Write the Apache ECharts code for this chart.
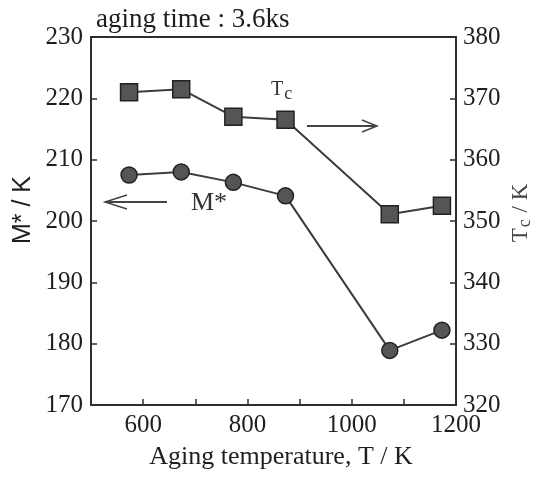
<!DOCTYPE html>
<html lang="en">
<head>
  <meta charset="UTF-8">
  <title>M* and Tc vs aging temperature</title>
  <script src="https://cdn.jsdelivr.net/npm/echarts@6/dist/echarts.min.js"></script>
  <style type="text/css">
    html, body { margin: 0; padding: 0; background: #fff; }
    #main { width: 535px; height: 491px; }
  </style>
</head>
<body>
  <div id="main"></div>

  <script type="text/javascript">
    // aging temperatures (K)
    var agingTemps = [573, 673, 773, 873, 1073, 1173];
    // M* (left axis, K)
    var mStar = [207.5, 208.0, 206.3, 204.1, 178.9, 182.2];
    // Tc (right axis, K)
    var tc = [371.0, 371.5, 367.0, 366.5, 351.1, 352.5];

    var xLabelValues = [600, 800, 1000, 1200];

    function pairs(xs, ys) {
      var out = [];
      for (var i = 0; i < xs.length; i++) {
        out.push([xs[i], ys[i]]);
      }
      return out;
    }

    var serif = '"Liberation Serif", "DejaVu Serif", serif';
    var sans = '"Liberation Sans", Arial, sans-serif';
    var ink = '#1e1e1e';
    var frame = '#2e2e2e';

    var myChart = echarts.init(document.getElementById('main'));

    var axisLineStyle = { color: frame, width: 2 };
    var tickLabel = { color: ink, fontFamily: serif, fontSize: 25 };

    var option = {
      animation: false,
      backgroundColor: '#fff',
      grid: {
        left: 91, right: 79, top: 37, bottom: 86,
        containLabel: false,
        outerBoundsMode: 'none',
        show: true, borderColor: frame, borderWidth: 2
      },
      xAxis: {
        type: 'value',
        min: 500, max: 1200, interval: 100,
        splitLine: { show: false },
        axisLine: { lineStyle: axisLineStyle },
        axisTick: { inside: true, length: 6, lineStyle: { color: frame, width: 1.5 } },
        axisLabel: Object.assign({
          margin: 8,
          formatter: function (v) { return xLabelValues.indexOf(v) >= 0 ? String(v) : ''; }
        }, tickLabel),
        name: 'Aging temperature, T / K',
        nameLocation: 'middle',
        nameGap: 39,
        nameTextStyle: { color: ink, fontFamily: serif, fontSize: 26, padding: [0, 0, 0, 15] }
      },
      yAxis: [
        {
          type: 'value',
          min: 170, max: 230, interval: 10,
          splitLine: { show: false },
          axisLine: { lineStyle: axisLineStyle },
          axisTick: { inside: true, length: 6, lineStyle: { color: frame, width: 1.5 } },
          axisLabel: Object.assign({ margin: 8 }, tickLabel)
        },
        {
          type: 'value',
          position: 'right',
          min: 320, max: 380, interval: 10,
          splitLine: { show: false },
          axisLine: { lineStyle: axisLineStyle },
          axisTick: { inside: true, length: 6, lineStyle: { color: frame, width: 1.5 } },
          axisLabel: Object.assign({ margin: 7 }, tickLabel)
        }
      ],
      series: [
        {
          name: 'M*',
          type: 'line',
          yAxisIndex: 0,
          data: pairs(agingTemps, mStar),
          symbol: 'circle',
          symbolSize: 16,
          lineStyle: { color: '#3c3c3c', width: 2 },
          itemStyle: { color: '#555', borderColor: '#222', borderWidth: 1.5 },
          z: 3
        },
        {
          name: 'Tc',
          type: 'line',
          yAxisIndex: 1,
          data: pairs(agingTemps, tc),
          symbol: 'rect',
          symbolSize: 17,
          lineStyle: { color: '#3c3c3c', width: 2 },
          itemStyle: { color: '#555', borderColor: '#222', borderWidth: 1.5 },
          z: 3
        }
      ],
      graphic: [
        {
          type: 'text', left: 96, top: 6,
          style: { text: 'aging time : 3.6ks', fill: ink, font: '27px ' + serif }
        },
        // left axis title, reads bottom to top
        {
          type: 'text', x: 23, y: 210, rotation: Math.PI / 2,
          style: {
            text: 'M* / K', fill: ink, font: '25px ' + sans,
            align: 'center', verticalAlign: 'middle'
          }
        },
        // right axis title with subscript c
        {
          type: 'text', x: 521, y: 213, rotation: Math.PI / 2,
          style: {
            text: '{t|T}{s|c}{t| / K}', align: 'center', verticalAlign: 'middle',
            rich: {
              t: { font: '23px ' + serif, fill: '#444' },
              s: { font: '18px ' + serif, fill: '#444', padding: [9, 1, 0, 1] }
            }
          }
        },
        {
          type: 'text', left: 271, top: 80,
          style: {
            text: '{t|T}{s|c}',
            rich: {
              t: { font: '20px ' + serif, fill: '#333' },
              s: { font: '18px ' + serif, fill: '#333', padding: [8, 0, 0, 1] }
            }
          }
        },
        {
          type: 'text', left: 191, top: 190,
          style: { text: 'M*', fill: '#333', font: '26px ' + serif }
        },
        // arrow pointing to the right axis
        {
          type: 'polyline',
          shape: { points: [[307, 126], [377, 126]] },
          style: { stroke: '#444', lineWidth: 2 }
        },
        {
          type: 'polyline',
          shape: { points: [[362, 120], [377, 126], [362, 132]] },
          style: { stroke: '#444', lineWidth: 1.5, fill: null }
        },
        // arrow pointing to the left axis
        {
          type: 'polyline',
          shape: { points: [[105, 202], [167, 202]] },
          style: { stroke: '#444', lineWidth: 2 }
        },
        {
          type: 'polyline',
          shape: { points: [[127, 195], [105, 202], [127, 209]] },
          style: { stroke: '#444', lineWidth: 1.5, fill: null }
        }
      ]
    };

    myChart.setOption(option);
  </script>
</body>
</html>
